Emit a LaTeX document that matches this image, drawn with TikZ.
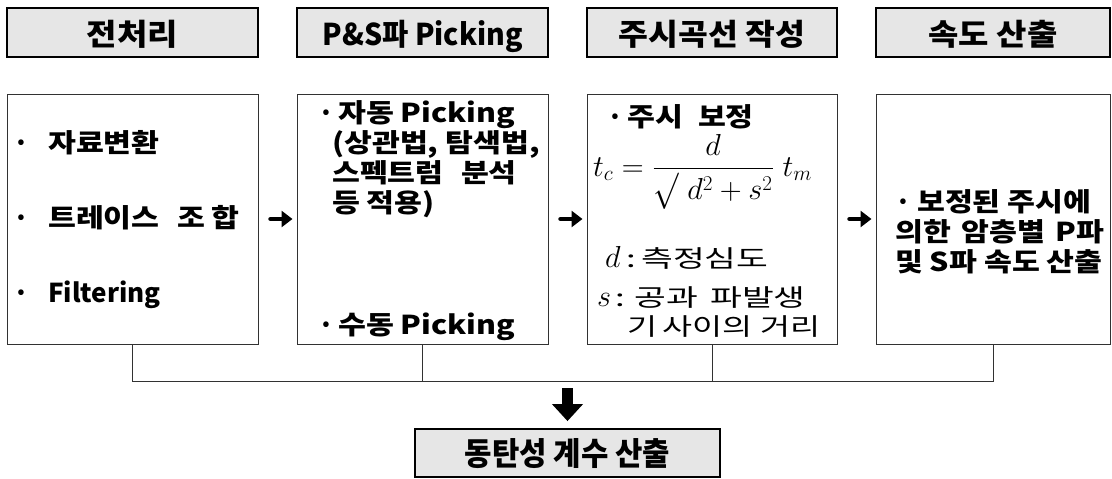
\documentclass[tikz,border=0pt]{standalone}
\usepackage{amsmath}
\usepackage{graphicx}
\usepackage{fontspec}
\usetikzlibrary{arrows.meta}
\newfontfamily\krh{Noto Sans CJK KR}
\definecolor{hgray}{RGB}{230,230,230}
\definecolor{lgray}{RGB}{50,50,50}
\newcommand\mybul[1]{\makebox[#1][l]{·}}
\newcommand\cw[1]{\scalebox{1.165}[1]{#1}}
\newcommand\sw[1]{\scalebox{1.44}[1]{#1}}
\newcommand\hw[2]{\scalebox{#1}[1]{#2}}
\begin{document}
\begin{tikzpicture}[x=1pt,y=-1pt,
  hdr/.style={draw=black, line width=1.8pt, fill=hgray, inner sep=0pt,
    minimum height=49pt, text height=29pt, text depth=3.5pt,
    font=\krh\bfseries\fontsize{30}{34}\selectfont},
  cbox/.style={draw=lgray, line width=1pt, fill=white, inner sep=0pt, minimum height=250pt},
  ctext/.style={anchor=base west, inner sep=0pt, font=\krh\bfseries\fontsize{26}{30}\selectfont},
  stext/.style={anchor=base west, inner sep=0pt, font=\krh\fontsize{24}{28}\selectfont},
  rarrow/.style={line width=4.5pt, line cap=round, -{Triangle[width=16pt,length=11pt]},
    shorten <=12pt, shorten >=4pt},
  bus/.style={draw=lgray, line width=1pt}
]
\path[use as bounding box] (0,0) rectangle (1112,479);

% header boxes
\node[hdr, minimum width=251pt] (h1) at (132.5,32.5) {\hw{1.1}{전처리}};
\node[hdr, minimum width=251pt] (h2) at (422.5,32.5) {\hw{0.95}{P\&S파 Picking}};
\node[hdr, minimum width=250pt] (h3) at (712,32.5) {\hw{1.08}{주시곡선 작성}};
\node[hdr, minimum width=234pt] (h4) at (993,32.5) {\hw{1.1}{속도 산출}};

% content boxes
\node[cbox, minimum width=251pt] (c1) at (132.5,219) {};
\node[cbox, minimum width=251pt] (c2) at (422.5,219) {};
\node[cbox, minimum width=250pt] (c3) at (712,219) {};
\node[cbox, minimum width=234pt] (c4) at (993,219) {};

% box 1 text
\node[ctext] (t11) at (13,152.75) {\mybul{35pt}\cw{자료변환}};
\node[ctext] (t12) at (13,227.75) {\mybul{35pt}\cw{트레이스\hspace{15pt}조\hspace{6pt}합}};
\node[ctext] (t13) at (13,302.75) {\mybul{35pt}Filtering};

% box 2 text
\node[ctext] (t21) at (318,122.75) {\mybul{20pt}\cw{자동 Picking}};
\node[ctext] (t22) at (332,152.75) {\cw{(상관법, 탐색법,}};
\node[ctext] (t23) at (332,182.75) {\cw{스펙트럼\hspace{15pt}분석}};
\node[ctext] (t24) at (332,212.75) {\cw{등 적용)}};
\node[ctext] (t25) at (318,334.75) {\mybul{20pt}\cw{수동 Picking}};

% box 3 text
\node[ctext] (t31) at (607,126.75) {\mybul{20pt}\cw{주시\hspace{13pt}보정}};
\node[anchor=west, inner sep=0pt, font=\fontsize{24}{28}\selectfont] (f) at (593,172)
  {\scalebox{1.22}{$t_c=\dfrac{d}{\raisebox{-1pt}{\scalebox{1}[1.2]{$\surd$}}\;d^2+s^2}\;t_m$}};
\node[stext] (t32) at (605,267) {\scalebox{1.22}{\fontsize{24}{28}\selectfont$d$}\hspace{6pt}\sw{:}\hspace{5pt}\sw{측정심도}};
\node[stext] (t33) at (597,306) {\scalebox{1.22}{\fontsize{24}{28}\selectfont$s$}\hspace{4pt}\sw{:}\hspace{10pt}\sw{공과}\hspace{12pt}\sw{파발생}};
\node[stext] (t34) at (627,335) {\hw{1.36}{기\hspace{4pt}사이의\hspace{6pt}거리}};

% box 4 text
\node[ctext] (t41) at (895,211.75) {\mybul{22pt}\cw{보정된 주시에}};
\node[ctext] (t42) at (895,241.75) {\cw{의한\hspace{9pt}암층별\hspace{9pt}P파}};
\node[ctext] (t43) at (895,271.75) {\cw{및 S파 속도 산출}};

% arrows between boxes
\draw[rarrow] (c1) -- (c2);
\draw[rarrow] (c2) -- (c3);
\draw[rarrow] (c3) -- (c4);

% bus
\coordinate (busy) at (0,381);
\draw[bus] (c1.south) -- (c1.south |- busy) -- (c4.south |- busy) -- (c4.south);
\draw[bus] (c2.south) -- (c2.south |- busy);
\draw[bus] (c3.south) -- (c3.south |- busy);

% bottom box
\node[hdr, minimum width=305pt, minimum height=48pt, text height=28pt, text depth=4pt,
  font=\krh\bfseries\fontsize{32}{36}\selectfont] (bot) at (567.5,453) {\hw{0.93}{동탄성 계수 산출}};
\coordinate (dtop) at (567.5,388);
\draw[line width=11pt, -{Triangle[width=30pt,length=17pt]}, shorten >=7pt] (dtop) -- (bot.north);
\end{tikzpicture}
\end{document}
